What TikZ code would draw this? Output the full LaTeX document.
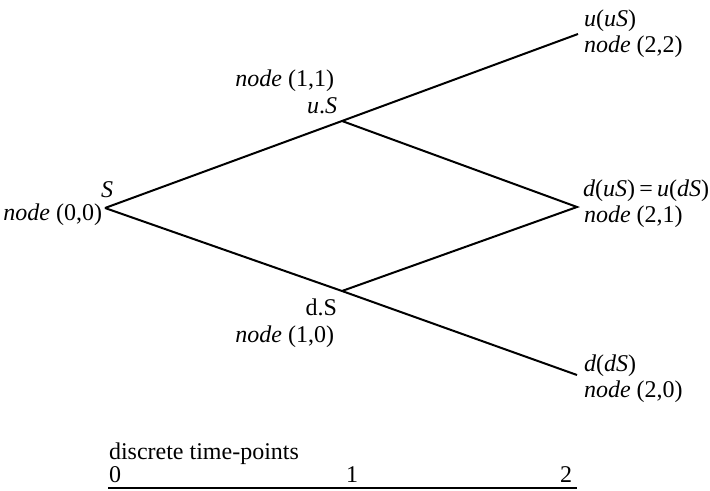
\documentclass[tikz,border=0pt]{standalone}
\usepackage{fontspec}
\setmainfont{Liberation Serif}

\begin{document}
\begin{tikzpicture}[x=0.5pt,y=-0.5pt,line width=1pt,
	lbl/.style={inner sep=0pt,font=\fontsize{12}{14}\selectfont}]

\useasboundingbox (0,0) rectangle (710,491);

\def\nd#1{\textit{node} (#1)}

% lattice points
\coordinate (n00) at (105,208);
\coordinate (n11) at (342,121);
\coordinate (n10) at (342,291);
\coordinate (n22) at (578,34);
\coordinate (n21) at (577,207);
\coordinate (n20) at (577,375);

\draw (n00) -- (n11) -- (n22);
\draw (n00) -- (n10) -- (n20);
\draw (n11) -- (n21) -- (n10);

\node[lbl,anchor=base east] (lS) at (114,198) {\textit{S}};
\node[lbl,anchor=base east] (l00) at (103,221) {\nd{0,0}};

\node[lbl,anchor=base east] (l11) at (335,87) {\nd{1,1}};
\node[lbl,anchor=base east] (luS) at (338,114) {\textit{u}.\textit{S}};
\node[lbl,anchor=base east] (ldS) at (338,315) {d.S};
\node[lbl,anchor=base east] (l10) at (335,342) {\nd{1,0}};

\node[lbl,anchor=base west] (luu) at (583,27) {\textit{u}(\textit{uS})};
\node[lbl,anchor=base west] (l22) at (583,53) {\nd{2,2}};
\node[lbl,anchor=base west] (ldu) at (582,197) {\textit{d}(\textit{uS})\hspace{0.18em}=\hspace{0.18em}\textit{u}(\textit{dS})};
\node[lbl,anchor=base west] (l21) at (583,223) {\nd{2,1}};
\node[lbl,anchor=base west] (ldd) at (583,371) {\textit{d}(\textit{dS})};
\node[lbl,anchor=base west] (l20) at (583,397) {\nd{2,0}};

% time axis
\node[lbl,anchor=base west] (tp) at (108,459) {discrete time-points};
\node[lbl,anchor=base west] (t0) at (108,482) {0};
\node[lbl,anchor=base] (t1) at (352,482) {1};
\node[lbl,anchor=base east] (t2) at (573,482) {2};
\coordinate (a0) at (108,488);
\coordinate (a2) at (577,488);
\draw[line width=1.4pt] (a0) -- (a2);

\end{tikzpicture}
\end{document}
